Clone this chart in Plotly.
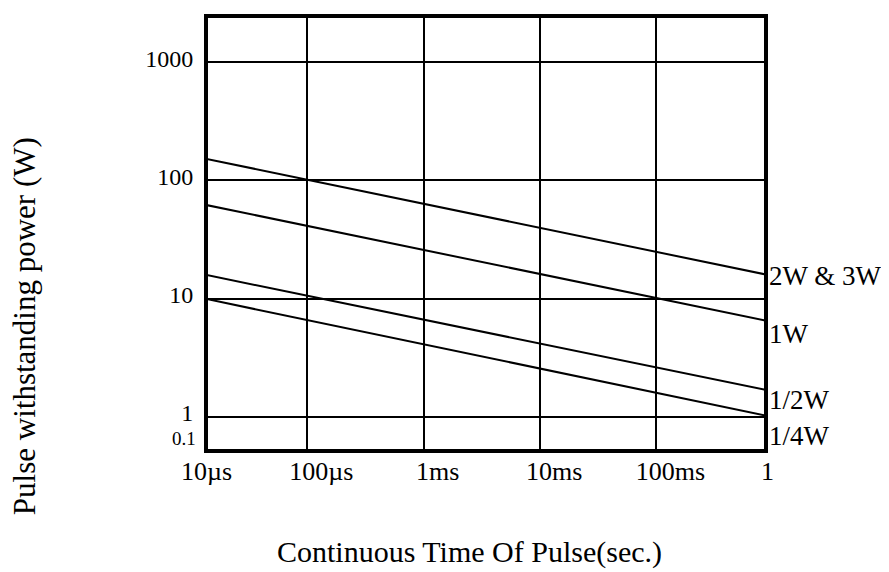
import math
import plotly.graph_objects as go

# ---- data ----
time_s = [1e-5, 1.0]                 # 10µs ... 1s
series_names = ["2W & 3W", "1W", "1/2W", "1/4W"]
p_2w_3w = [162.0, 15.6]
p_1w = [66.0, 6.35]
p_half_w = [16.9, 1.65]
p_quarter_w = [10.6, 1.0]

x_tick_vals = [1e-4, 1e-3, 1e-2, 1e-1]
x_tick_text = ["100µs", "1ms", "10ms", "100ms"]
x_edge_text = ["10µs", "1"]
y_tick_vals = [1, 10, 100, 1000]
y_tick_text = ["1", "10", "100", "1000"]
y_bottom_text = "0.1"

FONT = "Liberation Serif, Times New Roman, serif"

fig = go.Figure()
all_series = [p_2w_3w, p_1w, p_half_w, p_quarter_w]
for name, vals in zip(series_names, all_series):
    fig.add_trace(go.Scatter(x=time_s, y=vals, mode="lines", name=name,
                             line=dict(color="black", width=2),
                             showlegend=False, hoverinfo="skip"))

label_shift = [0, -12, -9, -19]
for name, vals, sh in zip(series_names, all_series, label_shift):
    fig.add_annotation(text=name, xref="paper", x=1, xanchor="left", xshift=3,
                       yref="y", y=math.log10(vals[-1]), yanchor="middle", yshift=sh,
                       showarrow=False, font=dict(family=FONT, size=27, color="black"))

# edge tick labels of the time axis
fig.add_annotation(text=x_edge_text[0], xref="paper", x=0, xanchor="center", xshift=-2,
                   yref="paper", y=0, yanchor="top", yshift=-6,
                   showarrow=False, font=dict(family=FONT, size=26, color="black"))
fig.add_annotation(text=x_edge_text[1], xref="paper", x=1, xanchor="center", xshift=3,
                   yref="paper", y=0, yanchor="top", yshift=-6,
                   showarrow=False, font=dict(family=FONT, size=26, color="black"))
# "0.1" label under the 1 line
fig.add_annotation(text=y_bottom_text, xref="paper", x=0, xanchor="right", xshift=-10,
                   yref="paper", y=0, yanchor="bottom", yshift=-2,
                   showarrow=False, font=dict(family=FONT, size=19, color="black"))

# axis titles
fig.add_annotation(text="Continuous Time Of Pulse(sec.)", xref="paper", x=0.471, xanchor="center",
                   yref="paper", y=-0.239, yanchor="middle", showarrow=False,
                   font=dict(family=FONT, size=30, color="black"))
fig.add_annotation(text="Pulse withstanding power (W)", xref="paper", x=-0.331, xanchor="center",
                   yref="paper", y=0.285, yanchor="middle", textangle=-90, showarrow=False,
                   font=dict(family=FONT, size=31, color="black"))

fig.update_xaxes(type="log", range=[-4.8537, -0.0758],
                 tickvals=x_tick_vals, ticktext=x_tick_text, ticks="",
                 ticklabelshift=14, ticklabelstandoff=-4,
                 tickfont=dict(family=FONT, size=26, color="black"),
                 showgrid=True, gridcolor="black", gridwidth=2,
                 showline=True, linecolor="black", linewidth=4, mirror=True,
                 zeroline=False)
fig.update_yaxes(type="log", range=[-0.2697, 3.3735],
                 tickvals=y_tick_vals, ticktext=y_tick_text, ticks="",
                 ticklabelshift=-4, ticklabelstandoff=6,
                 tickfont=dict(family=FONT, size=24, color="black"),
                 showgrid=True, gridcolor="black", gridwidth=2,
                 showline=True, linecolor="black", linewidth=4, mirror=True,
                 zeroline=False)

# the page body adds an 8px offset, so the figure is 8px smaller and margins shifted
fig.update_layout(width=881, height=564,
                  margin=dict(l=200, r=125, t=6, b=123),
                  paper_bgcolor="white", plot_bgcolor="white",
                  font=dict(family=FONT, color="black"))

fig.write_html("out.html")
